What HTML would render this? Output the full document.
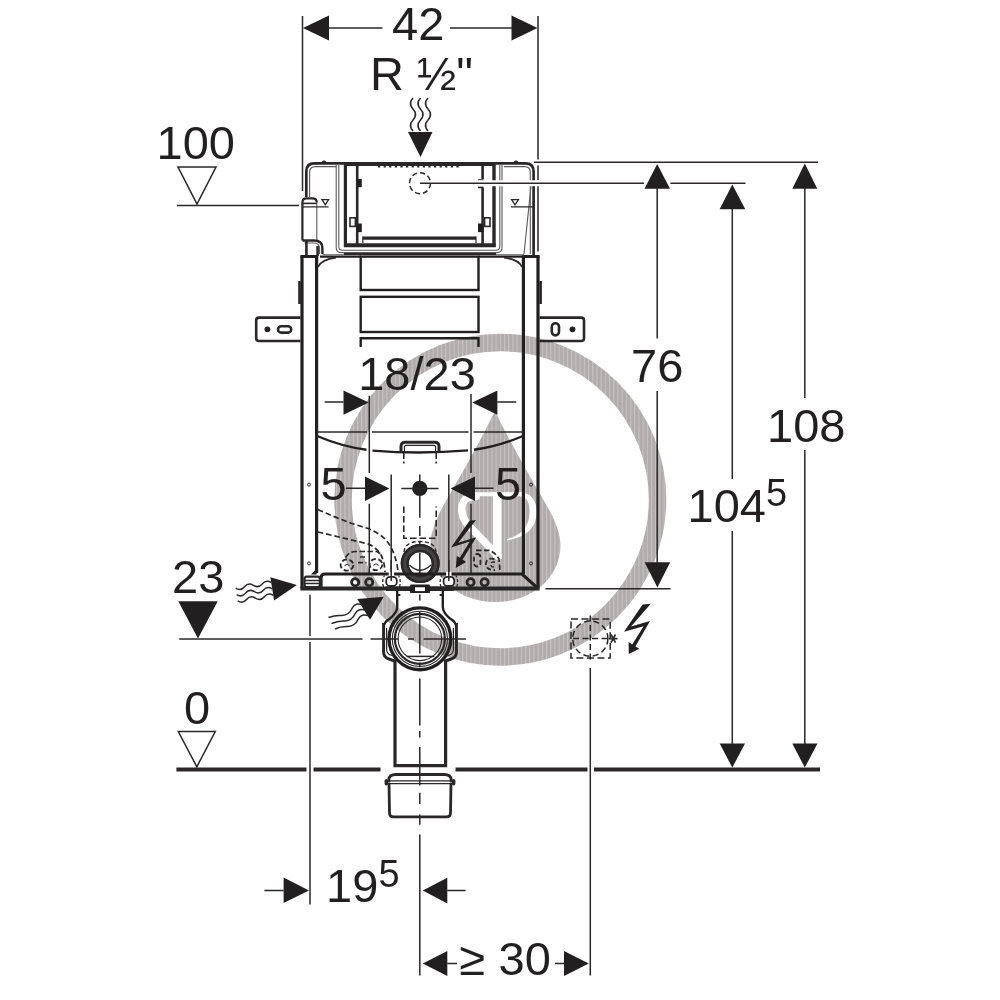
<!DOCTYPE html>
<html>
<head>
<meta charset="utf-8">
<title>Dimension drawing</title>
<style>
html,body{margin:0;padding:0;background:#fff;}
body{width:1000px;height:1000px;overflow:hidden;}
svg{display:block;will-change:transform;}
text{font-family:"Liberation Sans",sans-serif;fill:#231f20;}
.t{font-size:47px;}
.s{font-size:38px;}
.k{stroke:#2b2728;fill:none;}
.l{stroke:#2b2728;stroke-width:1.5;fill:none;}
.m{stroke:#231f20;stroke-width:2.4;fill:none;}
.h{stroke:#231f20;stroke-width:3.2;fill:none;}
.f{fill:#231f20;stroke:none;}
.d{stroke:#2b2728;stroke-width:1.5;fill:none;stroke-dasharray:5 3;}
.g{stroke:#5d595a;stroke-width:1.1;fill:none;}
</style>
</head>
<body>
<svg width="1000" height="1000" viewBox="0 0 1000 1000">
<defs>
<pattern id="wm" width="4.2" height="8" patternUnits="userSpaceOnUse">
<rect x="0" y="0" width="4.2" height="8" fill="#b1abaa"/>
<rect x="0" y="0" width="1.1" height="8" fill="#c9c4c3"/>
</pattern>
</defs>
<rect x="0" y="0" width="1000" height="1000" fill="#ffffff"/>

<!-- ===== WATERMARK ===== -->
<g id="watermark">
<circle cx="500.3" cy="499.7" r="157.25" fill="none" stroke="url(#wm)" stroke-width="17.5"/>
<path d="M495,411 C500,422 520,460 540,494 C552,514 560.500,530 560.500,545 C560.500,578 532,602 495.500,602 C459,602 430.500,578 430.500,545 C430.500,530 438,514 450,494 C470,460 490,422 495,411 Z" fill="url(#wm)"/>
<!-- white glyph -->
<g fill="none" stroke="#ffffff" stroke-linecap="butt" stroke-linejoin="round">
<path stroke-width="4" d="M475,494.2 H524"/>
<path stroke-width="8.5" d="M497.3,492.3 V559"/>
<path stroke-width="7.5" stroke-linecap="round" d="M476,496.4 C464.5,496 461.3,503 461.8,510 C462.3,520 468,525.500 474,531 L498,556"/>
<path stroke="none" fill="#ffffff" d="M520,492.2 C533,493 537,503 536.6,513 C536,527 528,536.500 507,540.600 L507,539 C521,535.500 529,527 529.600,513 C530,503 527,497 520,496.200 Z"/>
</g>
</g>

<!-- ===== DIMENSIONS ===== -->
<g id="dims">
<!-- 42 top -->
<path class="l" d="M302.5,16 V191"/>
<path class="l" d="M538,16 V159.5 M538,165.5 V180.5 M538,186 V251.5"/>
<path class="l" d="M329,28 H382.5 M450,28 H512"/>
<path class="f" d="M303,28 L329,15.5 V40.5 Z"/>
<path class="f" d="M537.5,28 L511.5,15.5 V40.5 Z"/>
<text class="t" x="392" y="40">42</text>
<text class="t" x="370" y="90">R ½"</text>
<!-- water inlet wavy arrow -->
<path class="l" d="M413,98 q-5,5.500 0,11 q5,5.500 0,11 q-5,5.500 0,11 M420.5,98 q-5,5.500 0,11 q5,5.500 0,11 q-5,5.500 0,11 M428,98 q-5,5.500 0,11 q5,5.500 0,11 q-5,5.500 0,11"/>
<path class="f" d="M408,132 H432.5 L420.5,157 Z"/>

<!-- 100 level -->
<text class="t" x="156.5" y="159">100</text>
<path class="l" d="M178,167 H216 L197,204 Z"/>
<path class="l" d="M177,205.5 H299"/>

<!-- 23 level -->
<text class="t" x="172" y="592.5">23</text>
<path class="f" d="M178.3,601.2 H217.7 L198,638.4 Z"/>
<path class="l" d="M179.3,638.9 H362.5 M370.5,638.9 H398.5 M408,638.9 H414 M423.6,638.9 H466"/>

<!-- 0 level -->
<text class="t" x="184" y="723.5">0</text>
<path class="l" d="M178.3,731.5 H215.3 L196.8,766.8 Z"/>
<path class="k" stroke-width="4.2" d="M176.4,769.5 H306.5 M313.5,769.5 H380.5 M455.5,769.5 H587.5 M594,769.5 H820"/>

<!-- right vertical dims -->
<path class="l" d="M534,162.3 H818"/>
<path class="l" d="M657.2,188 V338.5 M657.2,391 V563"/>
<path class="l" d="M732.3,208 V479 M732.3,531 V744"/>
<path class="l" d="M804.8,188 V398 M804.8,450 V744"/>
<path class="f" d="M657.2,164 L644.5,188.8 H670 Z"/>
<path class="f" d="M732.3,184.5 L719.6,209.2 H745.3 Z"/>
<path class="f" d="M804.8,163.6 L792.3,188.8 H817.3 Z"/>
<path class="f" d="M657.4,587.6 L644.6,562.3 H670.2 Z"/>
<path class="f" d="M732.3,767.6 L719.7,743.5 H745 Z"/>
<path class="f" d="M804.8,767.6 L792.3,743.5 H817.5 Z"/>
<path class="l" d="M545.5,588.8 H670.5"/>
<text class="t" x="631" y="382.3">76</text>
<text class="t" x="767" y="441.5">108</text>
<text class="t" x="687.5" y="521.5">104</text>
<text class="s" x="766" y="505.6">5</text>

<!-- 18/23 -->
<text class="t" x="358.200" y="389.500">18/23</text>
<path class="l" d="M324.6,402 H343.5 M497.4,402 H516.3"/>
<path class="f" d="M368.7,402.5 L343.5,390.4 V414.7 Z"/>
<path class="f" d="M472.2,402.5 L497.4,390.4 V414.7 Z"/>
<path class="l" d="M369.3,395.8 V473 M369.3,503.8 V574.5"/>
<path class="l" d="M471,394 V473 M471,503.8 V574.5"/>

<!-- 5 / 5 -->
<text class="t" x="320.5" y="499.5">5</text>
<text class="t" x="495" y="499.5">5</text>
<path class="l" d="M346,488.2 H365 M475,488.2 H493.5"/>
<path class="f" d="M389.4,488.6 L365,476.5 V501 Z"/>
<path class="f" d="M450.6,488.6 L475,476.5 V501 Z"/>
<path class="l" d="M391.2,474.4 V581.5 M448.8,474.4 V581.5"/>

<!-- 19.5 bottom -->
<path class="l" d="M310,594.7 V636 M310,642 V904.5"/>
<path class="l" d="M264.4,890.4 H283.6 M447.3,890.6 H465.6"/>
<path class="f" d="M309,890.4 L283.6,877.6 V903 Z"/>
<path class="f" d="M422.8,890.6 L447.3,877.8 V903.4 Z"/>
<text class="t" x="326" y="902.4">19</text>
<text class="s" x="378.5" y="887">5</text>

<!-- >= 30 -->
<path class="l" d="M590.3,668 V975.5"/>
<path class="l" d="M447.3,963.4 H457 M555,963.4 H564"/>
<path class="f" d="M422.8,963.4 L447.3,951 V976 Z"/>
<path class="f" d="M588.8,963.4 L564,951 V976 Z"/>
<text class="t" x="459.5" y="975.3">≥</text>
<text class="t" x="498.5" y="975.3">30</text>
</g>

<!-- ===== DRAWING ===== -->
<g id="drawing">
<!-- frame posts -->
<path class="h" d="M302,256.3 V588.6 M316.6,256.3 V573"/>
<path class="h" d="M523.4,256.3 V574 M538,256.3 V588.6"/>
<!-- frame top -->
<path class="h" d="M300.4,256.5 H318.2 M521.8,256.5 H539.6"/>
<path class="m" d="M320,256.6 H361 M478.5,256.6 H522"/>
<path class="k" stroke-width="1.8" d="M318,267 Q321,259.500 336,257.600 M522,267 Q519,259.500 504,257.600"/>
<!-- side bumps -->
<path class="k" stroke-width="2.6" d="M299.5,281 V304 M540.6,281 V304"/>
<!-- central panel -->
<rect class="m" x="360.7" y="256.6" width="117.8" height="33.4"/>
<rect class="m" x="360.7" y="296.8" width="117.8" height="35.2"/>
<path class="m" d="M360.7,347 V338.3 H478.5 V347"/>
<!-- wall brackets -->
<path class="k" stroke-width="2.6" d="M300.5,317.6 H259 Q256.2,317.6 256.2,320.4 V338.2 Q256.2,341 259,341 H300.5"/>
<circle class="f" cx="267.4" cy="329.3" r="2.9"/>
<rect class="k" stroke-width="2.600" x="278" y="326.200" width="13.200" height="6.400" rx="3.200"/>
<path class="k" stroke-width="2.6" d="M539.5,317.6 H581.2 Q584,317.6 584,320.4 V338.2 Q584,341 581.2,341 H539.5"/>
<circle class="f" cx="572.5" cy="329.3" r="2.9"/>
<rect class="k" stroke-width="2.600" x="551.800" y="323.200" width="7.200" height="12.200" rx="3.600"/>

<!-- ===== lower frame ===== -->
<g id="lower">
<path class="l" d="M318,432 H367 M372,432 H468.5 M473.5,432 H522"/>
<!-- dish arc -->
<path class="m" d="M317,436 Q342,446.5 366.5,449.8 M372.5,450.6 Q420,454.5 468,450.4 M474,449.7 Q498,446.5 523,436"/>
<!-- handle -->
<path class="k" stroke-width="3" d="M401,452 V446.5 Q401,442.2 405.3,442.2 H434.7 Q439,442.2 439,446.5 V452"/>
<path class="k" stroke-width="1.2" d="M404.4,452 V447.3 Q404.4,445.4 406.3,445.4 H433.7 Q435.6,445.4 435.6,447.3 V452"/>
<!-- dashed guide lines from handle -->
<path class="k" stroke-width="1.6" stroke-dasharray="7 2.5 2 2.5" d="M403.8,452 V465 M436.2,452 V465"/>
<path class="k" stroke-width="1.6" stroke-dasharray="6.5 3" d="M403.8,506.5 V538.3 H436.2 V506.5"/>
<!-- centre mark -->
<circle class="f" cx="419.8" cy="488.4" r="7.7"/>
<path class="l" d="M401.3,488.4 H438.5 M419.8,474.6 V517.8 M419.8,526 V536 M419.8,542 V548"/>
<!-- small holes in posts -->
<circle class="k" stroke-width="1" cx="309" cy="484.6" r="1.5"/>
<circle class="k" stroke-width="1" cx="309" cy="563.4" r="1.5"/>
<circle class="k" stroke-width="1" cx="531" cy="484.6" r="1.5"/>
<circle class="k" stroke-width="1" cx="531" cy="563.4" r="1.5"/>
<!-- dashed hoses (left) -->
<path class="k" stroke-width="1.700" stroke-dasharray="5.500 3" d="M318,509.500 Q341,520.500 366.500,528 Q382,533.500 389,544 Q396,555 398,571"/>
<path class="k" stroke-width="1.700" stroke-dasharray="5.500 3" d="M318,532 Q341,537.500 366.500,543.500 Q376,546.500 381,555 Q384.500,562 385,572"/>
<!-- dashed fittings left -->
<ellipse class="k" stroke-width="1.800" stroke-dasharray="5 2.500" cx="347" cy="565" rx="6.400" ry="5.600"/>
<ellipse class="k" stroke-width="1.800" stroke-dasharray="5 2.500" cx="376" cy="564.500" rx="6.400" ry="5.600"/>
<path class="k" stroke-width="1.100" d="M344.500,566 q2.500,-3 5,0 M373.500,565.500 q2.500,-3 5,0"/>
<path class="k" stroke-width="1.700" stroke-dasharray="5.500 2.500" d="M345.500,557.500 Q349,551.500 356,551.500 H377 L380.500,554"/>
<path class="k" stroke-width="1.700" stroke-dasharray="5 2.500" d="M360,557 H367 M358,562.600 H366.500"/>
<!-- dashed fittings right -->
<rect class="k" stroke-width="1.800" stroke-dasharray="5 2.500" x="474" y="554" width="6.400" height="12.500" rx="3.200"/>
<path class="k" stroke-width="1.800" stroke-dasharray="5 2.500" d="M494.500,559 Q486,557.500 486,564 Q486.500,570.500 495,570"/>
<path class="k" stroke-width="1.600" stroke-dasharray="4 2.500" d="M495,562 Q490.500,561.500 490.500,564.500 Q491,567.500 495,567"/>
<path class="k" stroke-width="1.700" stroke-dasharray="5.500 2.500" d="M476,550.300 H489 Q495,552 499,559 L500,570.500"/>
<!-- dashed halo round outlet -->
<path class="k" stroke-width="1.4" stroke-dasharray="4 2.5" d="M404,552 Q405,541.5 420,541.5 Q435,541.5 436,552"/>
<!-- flush pipe outlet (end view) -->
<circle cx="420.200" cy="563.600" r="15.500" fill="#fff" stroke="#454142" stroke-width="8"/>
<circle class="k" stroke-width="2.400" cx="420.200" cy="563.600" r="18.300" stroke="#231f20"/>
<circle class="k" stroke-width="2.400" cx="420.200" cy="563.600" r="12.600" stroke="#231f20"/>
<path class="k" stroke-width="1.300" d="M409.500,565 Q420,575.500 431,565"/>
<path class="l" d="M419.800,552.500 V576"/>
<!-- bottom bar -->
<path class="h" d="M321,588 V578 Q321,574 325,574 H522 L538.2,588.6"/>
<path class="k" stroke-width="4" d="M300.4,588.6 H539.6"/>
<path class="f" d="M311,574.5 L316.6,568.5 V574.5 Z"/>
<!-- foot box left -->
<rect class="k" stroke-width="2.2" x="304.5" y="576.6" width="15.4" height="10.6" rx="2.5"/>
<path class="k" stroke-width="1.5" d="M305,580.4 H319.5 M305,583.6 H319.5"/>
<!-- mounting holes -->
<circle class="k" stroke-width="2.800" cx="355.2" cy="582.300" r="3.600"/>
<circle class="k" stroke-width="2.800" cx="369.2" cy="582.300" r="3.600"/>
<circle class="k" stroke-width="2.800" cx="470.6" cy="582.300" r="3.600"/>
<circle class="k" stroke-width="2.800" cx="484.6" cy="582.300" r="3.600"/>
<!-- slots at 5/5 lines -->
<path class="k" stroke-width="1.300" stroke-dasharray="3 2" d="M383.600,587 Q381.500,581 384.500,575.500 M399.400,587 Q401.500,581 398.500,575.500"/>
<rect x="388.700" y="571.800" width="5.400" height="5" fill="#fff"/>
<rect x="386.200" y="576.800" width="10.600" height="9.200" rx="3.800" fill="#fff" stroke="#2b2728" stroke-width="1.800"/>
<path class="k" stroke-width="1.300" stroke-dasharray="3 2" d="M441,587 Q438.900,581 441.900,575.500 M456.800,587 Q458.900,581 455.900,575.500"/>
<rect x="446.100" y="571.800" width="5.400" height="5" fill="#fff"/>
<rect x="443.600" y="576.800" width="10.600" height="9.200" rx="3.800" fill="#fff" stroke="#2b2728" stroke-width="1.800"/>
<path class="l" d="M391.200,560 V581 M448.800,560 V581"/>
<!-- centre connector -->
<path class="k" stroke-width="4.600" d="M386,588.800 H454"/>
<rect class="f" x="410" y="584.500" width="20" height="8.600" rx="1.200"/>
<rect x="415" y="587.300" width="10" height="3.800" fill="#fff"/>
<!-- neck to drain -->
<path class="m" d="M397.2,590 V607 Q397,613 390,618.5 Q384,622 383.6,627"/>
<path class="m" d="M442.8,590 V607 Q443,613 450,618.5 Q456,622 456.4,627"/>
<path class="k" stroke-width="1.8" d="M397.5,595 H400.4 M442.5,595 H439.6"/>
<!-- clamp -->
<path class="k" stroke-width="3" d="M383.6,623 V652 Q383.6,657.5 389,659 L396,661.5"/>
<path class="k" stroke-width="3" d="M456.4,623 V652 Q456.4,657.5 451,659 L444,661.5"/>
<path class="k" stroke-width="1.2" d="M386.6,628 V650 Q387,654.5 392,655.5 M453.4,628 V650 Q453,654.5 448,655.5"/>
<!-- drain ring -->
<circle cx="419.900" cy="638.800" r="30.900" fill="none" stroke="#231f20" stroke-width="3.400"/>
<circle class="k" stroke-width="1.1" cx="419.9" cy="638.8" r="27.6"/>
<circle class="k" stroke-width="2.2" cx="419.9" cy="638.8" r="25"/>
<circle class="k" stroke-width="1.1" cx="419.9" cy="638.8" r="21.8"/>
<path class="l" d="M406.8,656.4 H434.4"/>
<path class="l" d="M419.8,594.6 V600.6 M419.8,611.4 V653.4 M419.8,662.4 V667.2 M419.8,678.6 V725.6 M419.8,731 V737.6 M419.8,747 V785.6 M419.8,792.8 V804 M419.8,814.4 V824.8 M419.8,834.4 V975.5"/>
<!-- drain pipe -->
<path class="k" stroke-width="3.2" d="M395,661 V765.6 H445.6 V661"/>
<!-- cap below floor -->
<path class="k" stroke-width="2.8" d="M388.8,782.5 V780 Q388.8,774.5 396,774.5 H444 Q451.2,774.5 451.2,780 V782.5 M389,783 L389.500,813.300 Q389.600,816.800 393,816.800 H447 Q450.400,816.800 450.500,813.300 L451,783"/>
<path class="k" stroke-width="1.2" d="M386.5,780.8 H453.5 M386.5,783.6 H453.5"/>
<path class="k" stroke-width="3.4" stroke-linecap="round" d="M386.3,780.6 V783.8 M453.7,780.6 V783.8"/>
</g>

<!-- ===== symbols ===== -->
<g id="symbols">
<!-- wavy arrow 1 (to frame foot) -->
<g transform="translate(296.9,585) rotate(-9)">
<path class="f" d="M0,0 L-25,-11.8 V11.8 Z"/>
<path class="l" d="M-25,-6.5 q-4.5,-4 -9,0 q-4.500,4 -9,0 q-4.500,-4 -9,0 q-4.500,4 -9,0 M-25,0 q-4.500,-4 -9,0 q-4.500,4 -9,0 q-4.500,-4 -9,0 q-4.500,4 -9,0 M-25,6.500 q-4.500,-4 -9,0 q-4.500,4 -9,0 q-4.500,-4 -9,0 q-4.500,4 -9,0"/>
</g>
<!-- wavy arrow 2 (to drain) -->
<path class="f" d="M357.2,599 L383.8,596.7 L370,619.7 Z"/>
<path class="l" d="M362,604.5 q-7,-2 -10,4 q-3,6.500 -10,7 q-7,-0.500 -13.500,2 M365,610 q-7,-2 -10,4 q-3,6.500 -10,7 q-7,-0.500 -13.500,2.500 M368,615.500 q-7,-2 -10,4 q-3,6.500 -10,7 q-7,-0.500 -13,2.500"/>
<!-- lightning on frame -->
<path class="f" d="M476,520 L469.500,520.800 L451,547.400 L469.800,541.600 L459.800,557.800 L456.800,556 L455.800,568 L466,562 L462.600,559.600 L476.200,537.200 L458.200,542.800 Z"/>
<!-- electrical box -->
<rect class="k" stroke-width="1.5" stroke-dasharray="7 3.5" x="571" y="619" width="39.2" height="39"/>
<circle class="k" stroke-width="1.5" stroke-dasharray="6 3.5" cx="590.3" cy="638.6" r="17.6"/>
<path class="k" stroke-width="1.5" stroke-dasharray="6 3.5" d="M590.3,615.5 V662 M573,638.6 H608"/>
<path class="k" stroke-width="1.6" d="M609,638.6 H617.5 M611,634.5 L615.5,642.7 M615.5,634.5 L611,642.7"/>
<!-- lightning right -->
<path class="f" d="M650.800,603.800 L642.600,604.600 L624,631.800 L643.600,626.200 L632.200,644.400 L628.600,642 L628.800,654 L639.400,648.800 L635.400,646.400 L650,621 L631,626.400 Z"/>
</g>

<!-- ===== cistern / tank top ===== -->
<g id="tank">
<!-- outer shell -->
<path class="k" stroke-width="2.7" d="M306.3,197 V171.500 Q306.3,163.400 314.500,163.400 H525.500 Q533.600,163.400 533.600,171.500 V256"/>
<path class="g" d="M309.6,197 V172.5 Q309.6,166.6 315.5,166.6 H336"/>
<path class="g" d="M504,166.6 H524.5 Q530.3,166.6 530.3,172.5 V254"/>
<path class="g" d="M531,186 L524,254"/>
<path class="k" stroke-width="2" d="M322.5,162.3 q1.5,-1.6 3,0 M514.5,162.3 q1.5,-1.6 3,0"/>
<!-- top band inside -->
<path class="k" stroke-width="2.400" d="M344,164.700 H495.500"/>
<path class="k" stroke-width="1.6" stroke-dasharray="2.2 3.4" d="M378,166.700 H462"/>
<!-- inner container double thin line -->
<path class="g" d="M336.2,165 V247.5 Q336.2,252.6 341.3,252.6 H497 Q502,252.6 502,247.5 V165"/>
<path class="g" d="M338.8,165 V246.5 Q338.8,250.2 342.5,250.2 H496 Q499.8,250.2 499.8,246.5 V165"/>
<path class="g" d="M322.5,254.8 H524"/>
<path class="k" stroke-width="2.2" d="M344,254 H496"/>
<!-- thick verticals -->
<path class="k" stroke-width="3.2" d="M345.4,165 V247"/>
<path class="k" stroke-width="2.6" d="M357.2,165 V246"/>
<path class="k" stroke-width="3.4" d="M494,165 V247"/>
<path class="k" stroke-width="2.6" d="M482.6,165 V179 M482.6,188 V246"/>
<!-- bottom plates -->
<path class="k" stroke-width="3.2" d="M362.8,238.1 H476"/>
<path class="k" stroke-width="1.2" d="M362.8,236.6 V243 M476,236.6 V243"/>
<path class="k" stroke-width="4" d="M344,245.2 H495.6"/>
<!-- blocks -->
<rect class="f" x="357.2" y="179" width="4.6" height="8.2"/>
<rect class="f" x="357.2" y="223.5" width="4.6" height="8.6"/>
<rect class="k" stroke-width="1.6" x="350" y="217.8" width="5.4" height="8.6"/>
<rect class="f" x="478" y="223.5" width="5.4" height="8.6"/>
<rect class="k" stroke-width="1.6" x="484.6" y="217.8" width="5.4" height="8.6"/>
<path class="k" stroke-width="1.6" d="M478,180 H483.6 M478,187.4 H483.6"/>
<!-- dashed inlet circle -->
<circle class="k" stroke-width="1.5" stroke-dasharray="5.2 3" cx="420" cy="183.2" r="10.5"/>
<!-- fill valve (left) -->
<path class="k" stroke-width="2.2" d="M302.4,240.5 V202.5 Q302.4,198.4 306.5,198.4 H312.5 Q316.8,198.4 316.8,202.5"/>
<path class="g" d="M316.8,202.5 V240.5"/>
<path class="k" stroke-width="1.6" d="M302.4,203.4 H316.8"/>
<path class="k" stroke-width="2.4" d="M302.4,240.5 H314 Q322.4,240.5 322.4,248 V254"/>
<path class="g" d="M304.5,243 H313.5 Q319.6,243 319.6,248.5 V254"/>
<path class="k" stroke-width="2.6" d="M306.4,241 V256 M317.6,246 V256"/>
<!-- level marks -->
<path class="k" stroke-width="1.3" d="M322,199.6 H328.6 L325.3,204.8 Z M303,206.8 H328.6"/>
<path class="k" stroke-width="1.3" d="M511.6,199.6 H518.4 L515,204.8 Z M511,206.8 H533"/>
</g>
<path d="M476,183.200 H541" stroke="#fff" stroke-width="6" fill="none"/>
<path class="l" d="M420,183.200 H644 M670.400,183.200 H745.500"/>
</g>

</svg>
</body>
</html>
